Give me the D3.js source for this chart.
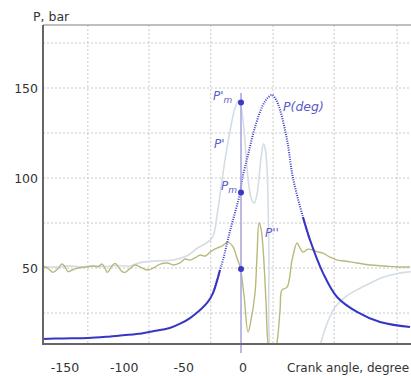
<!DOCTYPE html>
<html>
<head>
<meta charset="utf-8">
<script src="https://cdn.jsdelivr.net/npm/d3@7"></script>
<style>
  body { margin: 0; background: #fff; }
  svg { display: block; font-family: "DejaVu Sans", Verdana, sans-serif; }
</style>
</head>
<body>
<div id="chart"></div>
<script>
// pressure P(deg), bar
const pDeg = [[-167,10.6],[-150,10.9],[-129,11.1],[-110,12],[-88,13.3],[-75,14.8],[-60,16.7],[-50,19.5],[-43,22.2],
    [-34.5,26.7],[-28.6,30.6],[-23.6,36.1],[-17.7,48.9],[-15.2,54.4],[-9.3,70.5],[-0.8,91.7],[0.8,98.9],[5.9,112.8],
    [11.8,128.3],[18.5,140.6],[22.5,144.5],[26.1,146.1],[29.5,143.5],[32.9,137.8],[38.8,121.1],[43.8,100],[52.2,78.3],
    [58.1,65.6],[69.1,47.2],[80.9,33.9],[97.7,25.6],[117.1,20],[142.4,17.2]];

// first derivative P' (light)
const pPrime = [[-167,51],[-155,50.5],[-145,51.2],[-135,50.6],[-125,51.3],[-115,50.8],[-105,51.5],[-95,51],[-85,53],
    [-70,54],[-57,54.5],[-45,57],[-37,61],[-30,63.5],[-24,67],[-20,80],[-16,99],[-12,116],[-9,127],[-5,139],[-2,143],
    [0.5,138],[2.5,127],[6,99],[8.5,89],[11,86],[13.5,91],[15,99],[17,112],[19,119],[20.5,116],[22,104],[23.5,60],
    [24.5,5],[30,-10],[60,-10],[67,8],[73,20],[79,28],[88,34],[98,38],[110,42],[120,45],[132,47],[143,48]];

// second derivative P'' (olive)
const pSecond = [[-166.8,50.7],[-162.6,49.8],[-158.4,47.6],[-154.2,49.8],[-150.8,52.2],[-148.3,50.7],[-145.7,48],
    [-142.3,48.9],[-138.1,49.8],[-133.1,50.4],[-128.9,50.7],[-124.7,51.1],[-120.4,50.7],[-117.1,52.2],[-114.5,49.8],
    [-112.8,47.6],[-108.6,51.1],[-106.1,52.6],[-103.5,50.7],[-100.1,48],[-97.6,47.6],[-93.4,49.8],[-89.2,51.7],
    [-85,50.6],[-79,48.9],[-74,50],[-68,52.2],[-62,52.8],[-57,51.7],[-51.4,52.8],[-47,55],[-43,54.4],[-38.8,55.6],
    [-34.5,57.2],[-30,56.7],[-26,58.9],[-23.6,60],[-20.2,61.1],[-16,62.2],[-11,64.4],[-6.7,61.7],[-3.4,55.6],
    [-0.8,50.6],[2.5,35],[5.9,14.4],[8.4,21],[11.8,36.1],[13.5,57],[15.2,75],[16.8,72],[18.5,61.7],[21,32],
    [22.7,8.3],[26,-5],[30.3,8.3],[32.9,26.7],[34.5,37.8],[38.8,39.4],[43,54.4],[47.2,63.9],[49.7,61],[52.2,58.9],
    [56.4,60.5],[60.7,60],[64.9,58.9],[69.1,58.3],[75,56],[80.9,54.4],[87.6,53.9],[97.7,52.8],[108.7,51.7],
    [121.3,51.1],[131.4,50.6],[142.4,50.6]];

// marked points at 0 deg: P'm, Pm, P''
const markers = [142, 92, 49.5];

const xTicks = [-150, -100, -50, 0];
const yTicks = [50, 100, 150];
const xGrid = [-129, -77.5, -25.5, 27, 78.5, 131.5];
const yGrid = [25, 50, 75, 100, 125, 150, 175];

const width = 411, height = 376;
const plotLeft = 43, plotRight = 411, plotTop = 25, plotBottom = 344;

const svg = d3.select("#chart").append("svg")
    .attr("width", width)
    .attr("height", height);

const x = d3.scaleLinear().domain([-166.8, 143.2]).range([plotLeft, plotRight]);
const y = d3.scaleLinear().domain([7.8, 185]).range([plotBottom, plotTop]);

svg.append("clipPath").attr("id", "plot")
    .append("rect")
    .attr("x", plotLeft).attr("y", plotTop)
    .attr("width", plotRight - plotLeft).attr("height", plotBottom - plotTop);

// grid
svg.append("g").selectAll("line")
    .data(xGrid)
    .enter().append("line")
    .attr("x1", d => x(d)).attr("x2", d => x(d))
    .attr("y1", plotTop).attr("y2", plotBottom)
    .attr("stroke", "#c9c9c9")
    .attr("stroke-dasharray", "2,2");

svg.append("g").selectAll("line")
    .data(yGrid)
    .enter().append("line")
    .attr("x1", plotLeft).attr("x2", plotRight)
    .attr("y1", d => y(d)).attr("y2", d => y(d))
    .attr("stroke", "#c9c9c9")
    .attr("stroke-dasharray", "2,2");

const line = d3.line()
    .x(d => x(d[0]))
    .y(d => y(d[1]))
    .curve(d3.curveCatmullRom.alpha(0.5));

const plot = svg.append("g").attr("clip-path", "url(#plot)");

plot.append("path")
    .attr("d", line(pPrime))
    .attr("fill", "none")
    .attr("stroke", "#d3dde6")
    .attr("stroke-width", 1.6);

plot.append("path")
    .attr("d", line(pSecond))
    .attr("fill", "none")
    .attr("stroke", "#b9b97c")
    .attr("stroke-width", 1.4);

// vertical line at TDC
svg.append("line")
    .attr("x1", x(0)).attr("x2", x(0))
    .attr("y1", 93).attr("y2", 353)
    .attr("stroke", "#a3a3dc")
    .attr("stroke-width", 1.5);

// P(deg): solid at the ends, dotted in the middle
const solidLeft = pDeg.filter(d => d[0] <= -17.7);
const dotted = pDeg.filter(d => d[0] >= -23.6 && d[0] <= 58.1);
const solidRight = pDeg.filter(d => d[0] >= 52.2);

[solidLeft, solidRight].forEach(function(part) {
    plot.append("path")
        .attr("d", line(part))
        .attr("fill", "none")
        .attr("stroke", "#3636c4")
        .attr("stroke-width", 2);
});

plot.append("path")
    .attr("d", line(dotted))
    .attr("fill", "none")
    .attr("stroke", "#3a3ac6")
    .attr("stroke-width", 2)
    .attr("stroke-dasharray", "1,1.3");

svg.append("g").selectAll("circle")
    .data(markers)
    .enter().append("circle")
    .attr("cx", x(0))
    .attr("cy", d => y(d))
    .attr("r", 3)
    .attr("fill", "#3a3ac6");

// axes
svg.append("line")
    .attr("x1", plotLeft).attr("x2", plotRight)
    .attr("y1", plotTop).attr("y2", plotTop)
    .attr("stroke", "#aaa")
    .attr("stroke-width", 1.5);

svg.append("line")
    .attr("x1", plotLeft).attr("x2", plotLeft)
    .attr("y1", plotTop).attr("y2", plotBottom)
    .attr("stroke", "#666")
    .attr("stroke-width", 2);

svg.append("line")
    .attr("x1", plotLeft - 1).attr("x2", plotRight)
    .attr("y1", plotBottom).attr("y2", plotBottom)
    .attr("stroke", "#666")
    .attr("stroke-width", 2);

svg.append("g").selectAll("text")
    .data(yTicks)
    .enter().append("text")
    .attr("x", 38)
    .attr("y", d => y(d) + 4.5)
    .attr("text-anchor", "end")
    .attr("font-size", 12.5)
    .attr("fill", "#333")
    .text(d => d);

svg.append("g").selectAll("text")
    .data(xTicks)
    .enter().append("text")
    .attr("x", d => x(d) + 2)
    .attr("y", 372)
    .attr("text-anchor", "middle")
    .attr("font-size", 12.5)
    .attr("fill", "#333")
    .text(d => d < 0 ? "-" + Math.abs(d) : d);

svg.append("text")
    .attr("x", 287).attr("y", 372)
    .attr("font-size", 12)
    .attr("fill", "#333")
    .text("Crank angle, degree");

svg.append("text")
    .attr("x", 33).attr("y", 21)
    .attr("font-size", 12.5)
    .attr("fill", "#333")
    .text("P, bar");

// curve labels
function label(tx, ty, main, sub, size) {
    let t = svg.append("text")
        .attr("x", tx).attr("y", ty)
        .attr("font-size", size)
        .attr("font-style", "italic")
        .attr("fill", "#5c5cc8")
        .text(main);
    if (sub) {
        t.append("tspan")
            .attr("dy", 3)
            .attr("font-size", size - 3)
            .text(sub);
    }
}

label(213, 100, "P'", "m", 12);
label(214, 148, "P'", null, 12);
label(221, 190, "P", "m", 12);
label(265, 237, "P''", null, 12);
label(283, 111, "P(deg)", null, 12.5);
</script>
</body>
</html>
